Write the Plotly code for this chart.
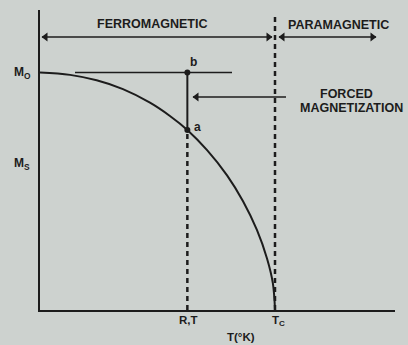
import plotly.graph_objects as go

# ---- data (T in units of Tc, M in units of M0) ----
curve_T = [0.0, 0.128, 0.241, 0.353, 0.468, 0.553, 0.627, 0.711, 0.796, 0.864, 0.923, 0.966, 0.991, 1.0]
curve_M = [1.0, 0.990, 0.967, 0.930, 0.873, 0.817, 0.758, 0.673, 0.567, 0.458, 0.337, 0.217, 0.112, 0.0]
TC = 1.0
T_RT = 0.627
M0 = 1.0
M_A = 0.758
point_labels = ["b", "a"]
region_labels = ["FERROMAGNETIC", "PARAMAGNETIC"]

# ---- layout geometry (pixels) ----
W, H = 408, 345
L, R, T_, B = 40, 13, 10, 35
X_MAX = (W - L - R) / 235.0
Y_MAX = (H - T_ - B) / 237.5

def px_x(p):
    return (p - L) / 235.0

def px_y(p):
    return (H - B - p) / 237.5

INK = "#1c1c1c"
BG = "#cdd2cf"
FONT = "Liberation Sans, Arial, sans-serif"

fig = go.Figure()

def line(xs, ys, width=2, dash=None, shape="linear"):
    fig.add_trace(go.Scatter(x=xs, y=ys, mode="lines",
                             line=dict(color=INK, width=width, dash=dash, shape=shape,
                                       smoothing=1.0 if shape == "spline" else None),
                             hoverinfo="skip", showlegend=False))

# magnetization curve
line(curve_T, curve_M, width=2, shape="spline")

# dashed verticals at RT and Tc
line([T_RT, T_RT], [0, M_A], width=2.5, dash="5px,4px")
line([TC, TC], [0, px_y(17)], width=2.5, dash="5px,4px")

# M0 horizontal line
line([px_x(75), px_x(232)], [M0, M0], width=1.6)
# forced magnetization vertical b-a
line([T_RT, T_RT], [M0, M_A], width=2)
# points b and a
fig.add_trace(go.Scatter(x=[T_RT, T_RT], y=[M0, M_A], mode="markers",
                         marker=dict(color=INK, size=6),
                         hoverinfo="skip", showlegend=False))

def arrow(p0, p1, py, left=True, right=True, width=1.5):
    y = px_y(py)
    line([px_x(p0), px_x(p1)], [y, y], width=width)
    xs, syms = [], []
    if left:
        xs.append(px_x(p0 + 3.5)); syms.append("triangle-left")
    if right:
        xs.append(px_x(p1 - 3.5)); syms.append("triangle-right")
    fig.add_trace(go.Scatter(x=xs, y=[y] * len(xs), mode="markers",
                             marker=dict(color=INK, size=8, symbol=syms, line=dict(width=0)),
                             hoverinfo="skip", showlegend=False))

arrow(42, 272, 37)
arrow(279, 376, 37)
arrow(193, 286, 97, left=True, right=False, width=1.4)

annotations = []

def label(text, xp, yp, size=12.5, xanchor="center"):
    annotations.append(dict(x=(xp - L) / (W - L - R), y=(H - B - yp) / (H - T_ - B),
                            xref="paper", yref="paper", text=text, showarrow=False,
                            xanchor=xanchor, yanchor="middle",
                            font=dict(family=FONT, size=size, color=INK)))

label("<b>" + region_labels[0] + "</b>", 152, 24)
label("<b>" + region_labels[1] + "</b>", 338, 25)
label("<b>FORCED</b>", 346, 94)
label("<b>MAGNETIZATION</b>", 351, 108)
label("<b>" + point_labels[0] + "</b>", 193, 62, size=12)
label("<b>" + point_labels[1] + "</b>", 197, 127, size=12)
label("<b>M<sub>O</sub></b>", 22, 73, size=12)
label("<b>M<sub>S</sub></b>", 22, 164, size=12)
label("<b>R,T</b>", 188, 320, size=11.5)
label("<b>T<sub>C</sub></b>", 278, 321, size=11.5)
label("<b>T(°K)</b>", 241, 337, size=11.5)

fig.update_layout(
    width=W, height=H,
    margin=dict(l=L, r=R, t=T_, b=B, pad=0),
    paper_bgcolor=BG, plot_bgcolor=BG,
    annotations=annotations,
    xaxis=dict(range=[0, X_MAX], showline=True, linecolor=INK, linewidth=2,
               showgrid=False, zeroline=False, showticklabels=False, ticks="",
               fixedrange=True),
    yaxis=dict(range=[0, Y_MAX], showline=True, linecolor=INK, linewidth=2,
               showgrid=False, zeroline=False, showticklabels=False, ticks="",
               fixedrange=True),
)

fig.write_html("out.html", config={"displayModeBar": False})
